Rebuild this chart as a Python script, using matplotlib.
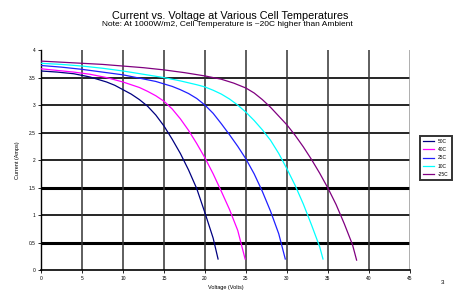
import matplotlib
matplotlib.use("Agg")
import matplotlib.pyplot as plt

plt.rcParams['font.family'] = ['Liberation Sans', 'DejaVu Sans']

# I-V curves (volts, amps)
v_50 = [0, 2, 4, 6, 8, 9, 10, 11, 12, 13, 14, 15, 16, 17, 18, 19, 20, 21, 21.6]
i_50 = [3.62, 3.60, 3.57, 3.51, 3.42, 3.36, 3.28, 3.20, 3.10, 2.98, 2.82, 2.62,
        2.38, 2.12, 1.82, 1.48, 1.04, 0.58, 0.2]

v_40 = [0, 2, 4, 6, 8, 10, 12, 13, 14, 15, 16, 17, 18, 19, 20, 21, 22, 23, 24, 24.9]
i_40 = [3.66, 3.63, 3.60, 3.56, 3.50, 3.42, 3.32, 3.25, 3.17, 3.07, 2.93, 2.75,
        2.54, 2.30, 2.04, 1.75, 1.43, 1.10, 0.72, 0.2]

v_25 = [0, 2.5, 5, 7.5, 10, 12, 14, 16, 17, 18, 19, 20, 21, 22, 23, 24, 25, 26,
        27, 28, 29, 29.8]
i_25 = [3.72, 3.69, 3.65, 3.60, 3.55, 3.49, 3.43, 3.34, 3.28, 3.21, 3.12, 3.00,
        2.85, 2.66, 2.46, 2.25, 2.02, 1.75, 1.43, 1.07, 0.66, 0.2]

v_10 = [0, 2.5, 5, 7.5, 10, 12.5, 15, 17, 19, 20, 21, 22, 23, 24, 25, 26, 27, 28,
        29, 30, 31, 32, 33, 34, 34.4]
i_10 = [3.76, 3.74, 3.71, 3.67, 3.62, 3.56, 3.50, 3.44, 3.37, 3.33, 3.27, 3.20,
        3.11, 3.00, 2.87, 2.72, 2.55, 2.36, 2.12, 1.84, 1.54, 1.20, 0.82, 0.42, 0.2]

v_m25 = [0, 2.5, 5, 7.5, 10, 12.5, 15, 17.5, 20, 22, 23.5, 25, 26, 27, 28, 29, 30,
         31, 32, 33, 34, 35, 36, 37, 38, 38.5]
i_m25 = [3.80, 3.78, 3.76, 3.74, 3.71, 3.68, 3.64, 3.59, 3.53, 3.47, 3.40, 3.31,
         3.22, 3.10, 2.96, 2.80, 2.64, 2.45, 2.24, 2.01, 1.76, 1.49, 1.19, 0.84,
         0.46, 0.18]

labels = ["50C", "40C", "25C", "10C", "-25C"]
colors = ["#000080", "#ff00ff", "#2020ff", "#00ffff", "#800080"]

x_ticks = [0, 5, 10, 15, 20, 25, 30, 35, 40, 45]
y_ticks = [0, 0.5, 1, 1.5, 2, 2.5, 3, 3.5, 4]

fig = plt.figure(figsize=(4.59, 2.93), dpi=100)
ax = fig.add_axes([0.0893, 0.0785, 0.8037, 0.7505])

# grid lines
for y in y_ticks[1:-1]:
    lw = 2.2 if y in (0.5, 1.5) else 1.2
    ax.axhline(y, color="black", lw=lw, zorder=1)
for x in x_ticks[1:]:
    c = "#999999" if x == 45 else "#333333"
    ax.axvline(x, color=c, lw=1.1, zorder=1)

series = [(v_50, i_50), (v_40, i_40), (v_25, i_25), (v_10, i_10), (v_m25, i_m25)]
for (v, i), lab, col in zip(series, labels, colors):
    ax.plot(v, i, color=col, lw=0.9, label=lab, zorder=3)

ax.set_xlim(0, 45)
ax.set_ylim(0, 4)
ax.set_xticks(x_ticks)
ax.set_yticks(y_ticks)
ax.set_xticklabels([str(t) for t in x_ticks])
ax.set_yticklabels(["0", "0.5", "1", "1.5", "2", "2.5", "3", "3.5", "4"])
ax.tick_params(labelsize=3.5, length=2, width=0.6, pad=2)
for s in ["top", "right"]:
    ax.spines[s].set_visible(False)
ax.spines["left"].set_linewidth(1.0)
ax.spines["bottom"].set_linewidth(1.2)

ax.set_xlabel("Voltage (Volts)", fontsize=4, labelpad=3)
ax.set_ylabel("Current (Amps)", fontsize=4, labelpad=6)

leg = ax.legend(loc="center left", bbox_to_anchor=(1.02, 0.51), fontsize=3.5,
                frameon=True, fancybox=False, edgecolor="black",
                handlelength=2.2, labelspacing=0.65, borderpad=0.7)
leg.get_frame().set_linewidth(1.4)

fig.text(0.502, 0.945, "Current vs. Voltage at Various Cell Temperatures",
         ha="center", va="center", fontsize=7.8)
fig.text(0.495, 0.917, "Note: At 1000W/m2, Cell Temperature is ~20C higher than Ambient",
         ha="center", va="center", fontsize=6.0)
fig.text(0.965, 0.035, "3", ha="center", va="center", fontsize=4.5)

fig.savefig("out.png", dpi=100)
